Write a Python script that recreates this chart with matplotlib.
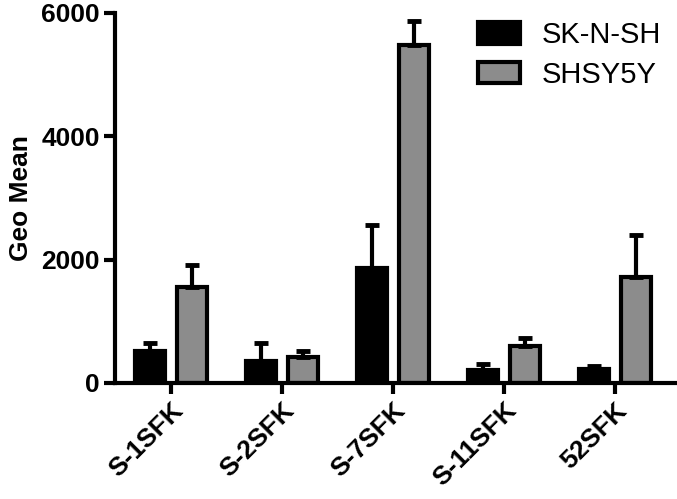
import numpy as np
import matplotlib
matplotlib.use('Agg')
import matplotlib.pyplot as plt

plt.rcParams['font.family'] = ['Liberation Sans', 'DejaVu Sans']

groups = ['S-1SFK', 'S-2SFK', 'S-7SFK', 'S-11SFK', '52SFK']
sknsh = [515, 356, 1863, 210, 227]
sknsh_err = [135, 292, 697, 98, 48]
shsy5y = [1555, 421, 5476, 600, 1717]
shsy5y_err = [355, 97, 388, 129, 681]

x = np.arange(len(groups))
w = 0.27
off = 0.19

fig = plt.figure(figsize=(6.77, 4.99), dpi=100)
ax = fig.add_axes([0.170, 0.2325, 0.827, 0.7415])

eb = dict(ecolor='black', elinewidth=3, capsize=4.8, capthick=3.5)
ax.bar(x - off, sknsh, w, color='black', edgecolor='black', linewidth=3,
       yerr=[np.zeros(5), sknsh_err], error_kw=eb, label='SK-N-SH')
ax.bar(x + off, shsy5y, w, color='#8c8c8c', edgecolor='black', linewidth=3,
       yerr=[np.zeros(5), shsy5y_err], error_kw=eb, label='SHSY5Y')

ax.set_xlim(-0.5, 4.54)
ax.set_ylim(0, 6000)
ax.set_yticks([0, 2000, 4000, 6000])
ax.set_xticks(x)
ax.set_xticklabels(groups, rotation=45, ha='right', rotation_mode='anchor')
for lab in ax.get_xticklabels() + ax.get_yticklabels():
    lab.set_fontweight('bold')
    lab.set_fontsize(19)
ax.set_ylabel('Geo Mean', fontsize=19, fontweight='bold', labelpad=6)

for s in ['top', 'right']:
    ax.spines[s].set_visible(False)
for s in ['left', 'bottom']:
    ax.spines[s].set_linewidth(3)
ax.tick_params(width=3, length=8, direction='out', pad=3)

ax.legend(loc='upper left', bbox_to_anchor=(0.627, 1.01), frameon=False,
          fontsize=21, handlelength=1.45, handleheight=0.76,
          handletextpad=0.75, labelspacing=0.4, borderaxespad=0)

fig.savefig('out.png', dpi=100)
